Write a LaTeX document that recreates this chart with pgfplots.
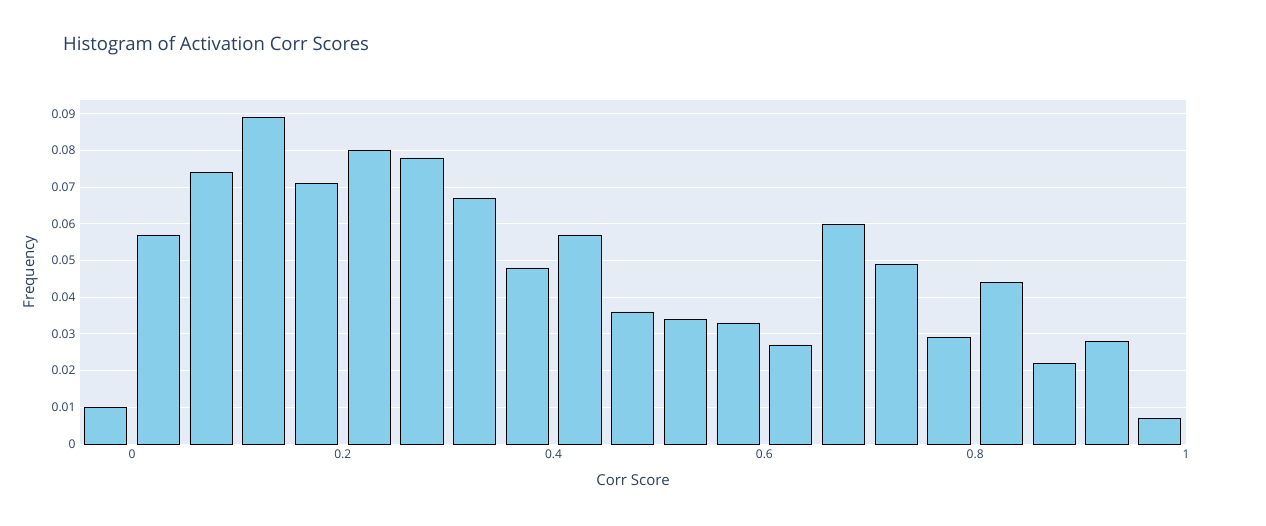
\documentclass[border=0pt]{standalone}
\usepackage{fontspec}
\setmainfont{Open Sans}
\usepackage{pgfplots}
\pgfplotsset{compat=1.18}
\definecolor{plotbg}{HTML}{E5ECF6}
\definecolor{plotfont}{HTML}{2A3F5F}
\definecolor{skyblue}{HTML}{87CEEB}

\begin{document}
\begin{tikzpicture}
\fill[white] (0pt,0pt) rectangle (1266pt,-525pt);
\node[anchor=base west, text=plotfont, font=\fontsize{18.5}{22}\selectfont, inner sep=0pt] at (63pt,-50pt) {Histogram of Activation Corr Scores};
\begin{axis}[
    at={(80pt,-444pt)}, anchor=south west,
    scale only axis,
    width=1106pt, height=344pt,
    xmin=-0.0493, xmax=1.0,
    ymin=0, ymax=0.0938,
    axis background/.style={fill=plotbg},
    axis line style={draw=none},
    major tick length=0pt,
    ymajorgrids,
    grid style={white, line width=1pt},
    scaled y ticks=false,
    scaled x ticks=false,
    xtick={0,0.2,0.4,0.6,0.8,1},
    xticklabels={0,0.2,0.4,0.6,0.8,1},
    ytick={0,0.01,0.02,0.03,0.04,0.05,0.06,0.07,0.08,0.09},
    yticklabels={0,0.01,0.02,0.03,0.04,0.05,0.06,0.07,0.08,0.09},
    tick label style={font=\fontsize{12}{14}\selectfont, text=plotfont},
    xticklabel style={yshift=-2pt},
    yticklabel style={xshift=-1pt},
    xlabel={Corr Score},
    ylabel={Frequency},
    label style={font=\fontsize{15}{18}\selectfont, text=plotfont},
    xlabel style={yshift=-9pt},
    ylabel style={yshift=7pt},
    clip=false,
]
\addplot[ybar, bar width=0.04, fill=skyblue, draw=black, line width=0.8pt] coordinates {
    (-0.025, 0.010)
    (0.025, 0.057)
    (0.075, 0.074)
    (0.125, 0.089)
    (0.175, 0.071)
    (0.225, 0.080)
    (0.275, 0.078)
    (0.325, 0.067)
    (0.375, 0.048)
    (0.425, 0.057)
    (0.475, 0.036)
    (0.525, 0.034)
    (0.575, 0.033)
    (0.625, 0.027)
    (0.675, 0.060)
    (0.725, 0.049)
    (0.775, 0.029)
    (0.825, 0.044)
    (0.875, 0.022)
    (0.925, 0.028)
    (0.975, 0.007)
};
\end{axis}
\end{tikzpicture}
\end{document}
